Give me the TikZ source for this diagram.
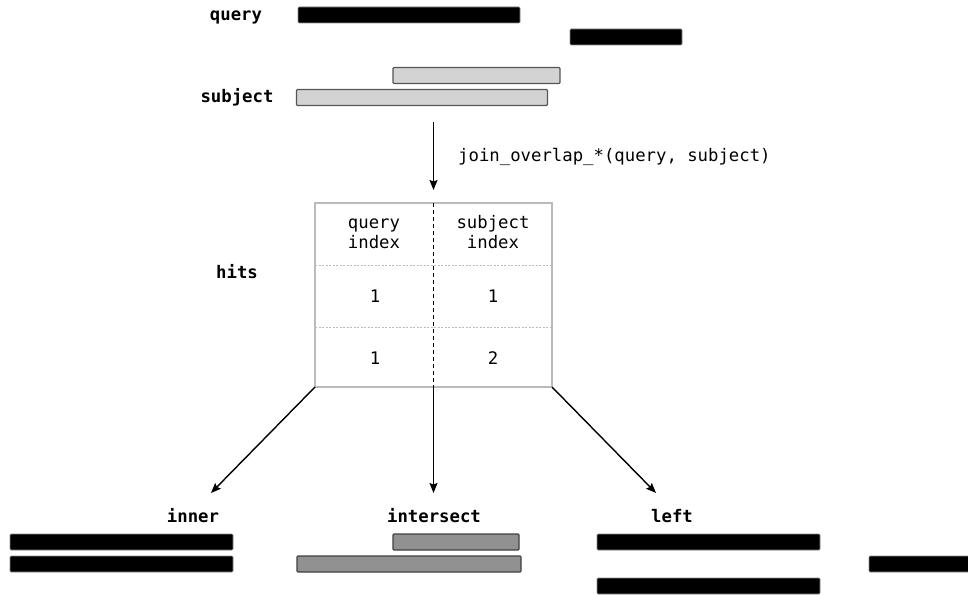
\documentclass[tikz,border=0pt]{standalone}
\usepackage{fontspec}
\setmonofont{DejaVu Sans Mono}
\usetikzlibrary{arrows.meta}
\definecolor{subjfill}{HTML}{D3D3D3}
\definecolor{subjdraw}{HTML}{555555}
\definecolor{intfill}{HTML}{919191}
\definecolor{intdraw}{HTML}{404040}
\definecolor{tblline}{HTML}{BBBBBB}
\begin{document}
\begin{tikzpicture}[x=1pt,y=-1pt,
  lbl/.style={font=\ttfamily\bfseries\fontsize{17.3}{20}\selectfont, inner sep=0pt},
  txt/.style={font=\ttfamily\fontsize{17.3}{20}\selectfont, inner sep=0pt, align=center},
  barbase/.style={anchor=north west, inner sep=0pt, outer sep=0pt, minimum height=16pt, rounded corners=1pt},
  qbar/.style={barbase, fill=black, draw=black!45, line width=0.6pt},
  sbar/.style={barbase, fill=subjfill, draw=subjdraw, line width=1.1pt},
  ibar/.style={barbase, fill=intfill, draw=intdraw, line width=1.1pt},
  arr/.style={line width=1.4pt, -{Stealth[length=10pt,width=8pt,inset=1.5pt]}}]
\useasboundingbox (0,0) rectangle (968,594);
% inputs
\node[lbl] (lq) at (236,17) {query};
\node[lbl] (ls) at (237,97) {subject};
\node[qbar, minimum width=222pt] (q1) at (298,7) {};
\node[qbar, minimum width=112pt] (q2) at (570,29) {};
\node[sbar, minimum width=167pt] (s1) at (393,67.5) {};
\node[sbar, minimum width=251pt] (s2) at (296.5,89.5) {};
% operation arrow
\coordinate (opTop) at (433.5,122);
\coordinate (opTip) at (433.5,190);
\draw[arr] (opTop) -- (opTip);
\node[txt, anchor=west] (op) at (458,157) {join\_overlap\_*(query, subject)};
% hits table
\node[lbl] (lh) at (237,272) {hits};
\node[draw=tblline, line width=1.3pt, anchor=north west, minimum width=237pt, minimum height=184pt, inner sep=0pt, outer sep=0pt] (tbl) at (315,203) {};
\coordinate (r1w) at (315,265); \coordinate (r1e) at (552,265);
\coordinate (r2w) at (315,327); \coordinate (r2e) at (552,327);
\draw[tblline, line width=0.8pt, dash pattern=on 2pt off 1.5pt] (r1w) -- (r1e);
\draw[tblline, line width=0.8pt, dash pattern=on 2pt off 1.5pt] (r2w) -- (r2e);
\draw[black, line width=1.5pt, dash pattern=on 4pt off 3pt] (tbl.north) -- (tbl.south);
\node[txt] (hq) at (374,234) {query\strut\\index\strut};
\node[txt] (hs) at (493,234) {subject\strut\\index\strut};
\node[txt] (a1) at (375,296) {1};
\node[txt] (b1) at (493,296) {1};
\node[txt] (a2) at (375,358) {1};
\node[txt] (b2) at (493,358) {2};
% result arrows
\coordinate (tipInner) at (211,493);
\coordinate (tipInt) at (433.5,493);
\coordinate (tipLeft) at (656,493);
\draw[arr] (tbl.south west) -- (tipInner);
\draw[arr] (tbl.south) -- (tipInt);
\draw[arr] (tbl.south east) -- (tipLeft);
% outputs
\node[lbl] (li) at (193,516) {inner};
\node[lbl] (lx) at (434,516) {intersect};
\node[lbl] (ll) at (672,516) {left};
\node[qbar, minimum width=223pt] (i1) at (10,534) {};
\node[qbar, minimum width=223pt] (i2) at (10,556) {};
\node[ibar, minimum width=126pt] (x1) at (393,534) {};
\node[ibar, minimum width=224pt] (x2) at (297,556) {};
\node[qbar, minimum width=223pt] (f1) at (597,534) {};
\node[qbar, minimum width=112pt] (f2) at (869,556) {};
\node[qbar, minimum width=223pt] (f3) at (597,578) {};
\end{tikzpicture}
\end{document}
